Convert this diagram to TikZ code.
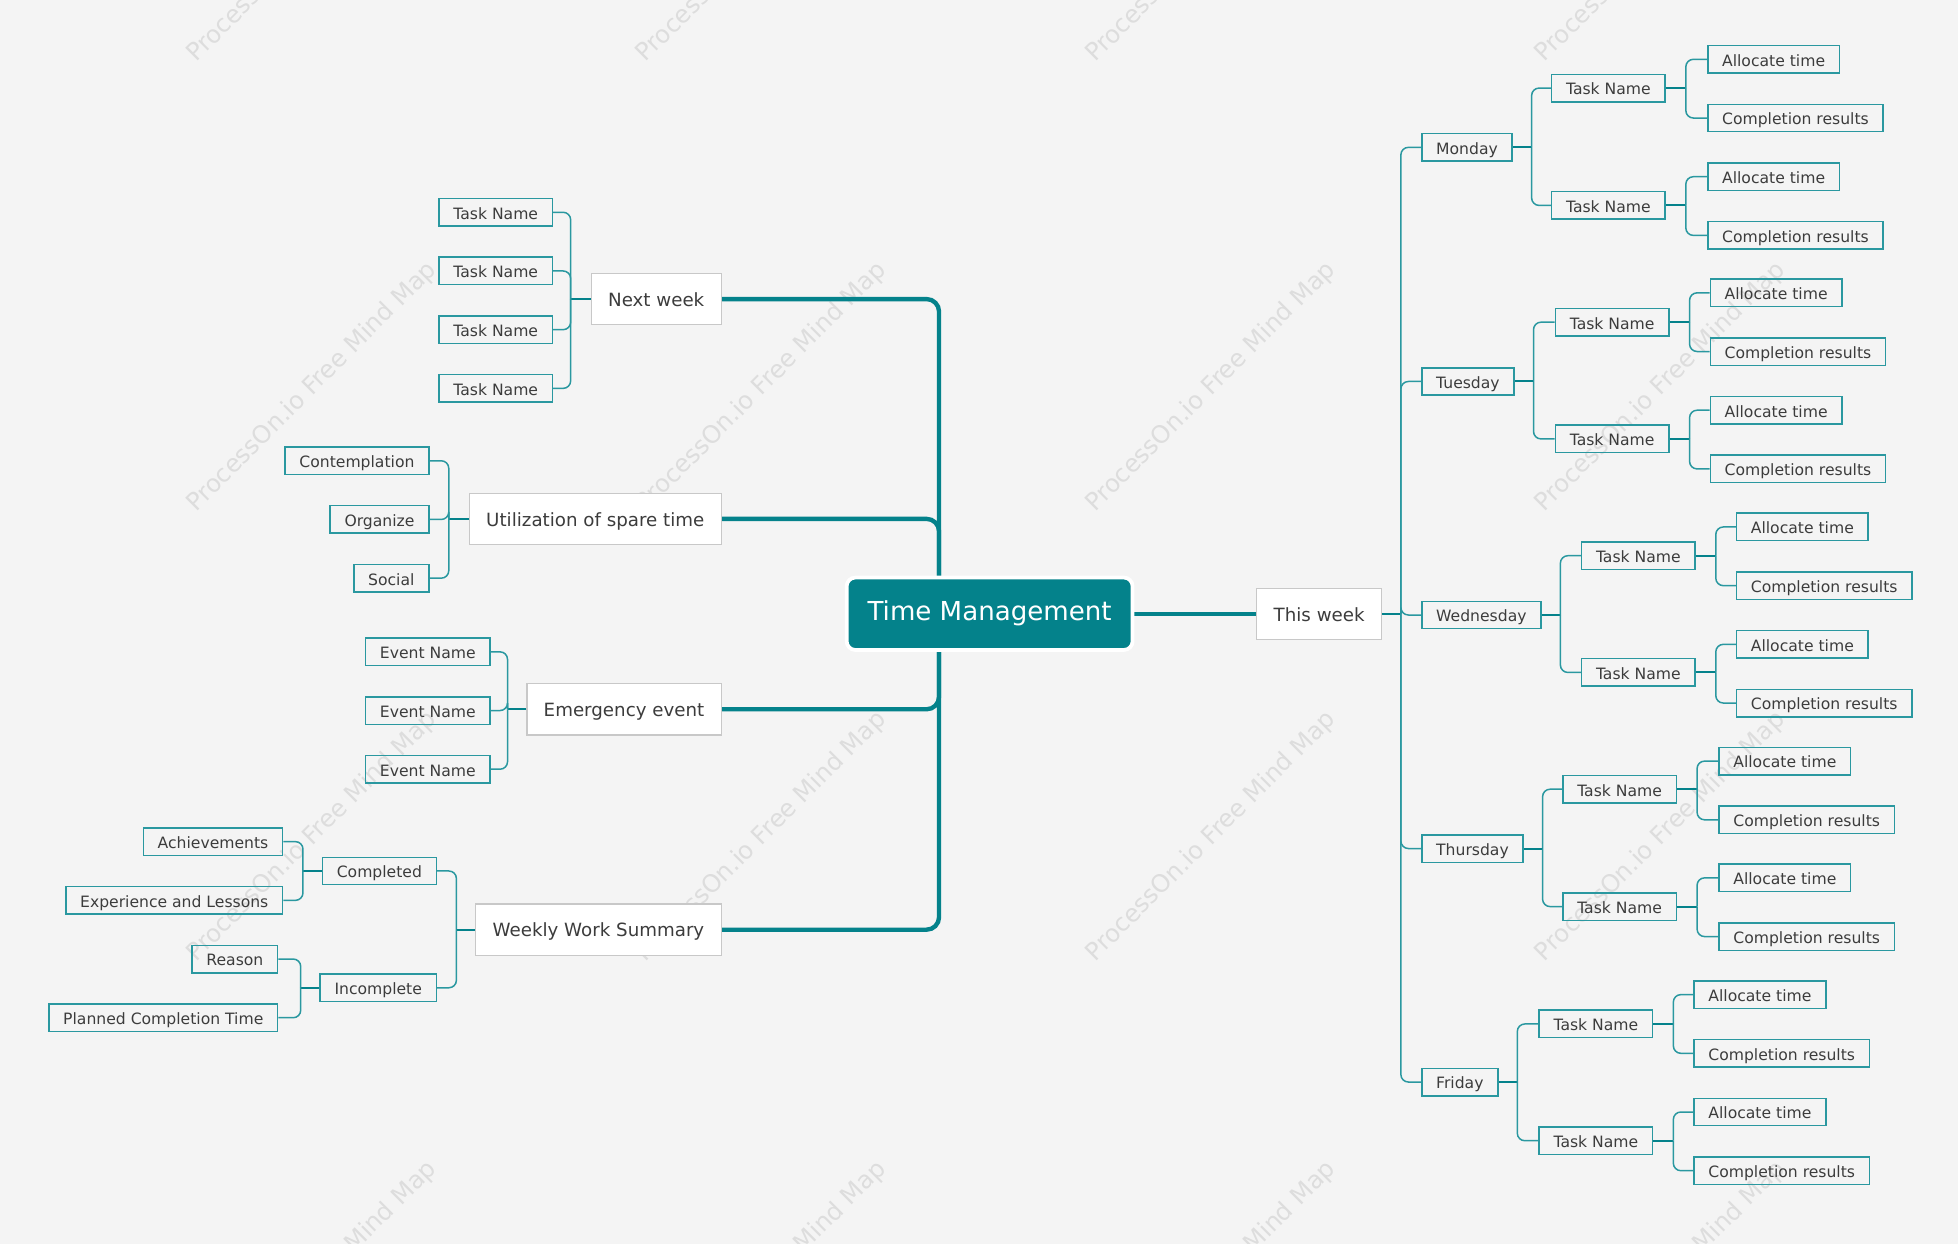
\documentclass[tikz,border=0pt]{standalone}
\usepackage{fontspec}
\setmainfont{DejaVu Sans}
\usetikzlibrary{calc}
\definecolor{bg}{HTML}{F4F4F4}
\definecolor{teal1}{HTML}{04828B}
\definecolor{tline}{HTML}{2A98A0}
\definecolor{txt}{HTML}{3C3C3C}
\definecolor{wm}{HTML}{DDDDDD}
\definecolor{secb}{HTML}{C8C8C8}
\pgfdeclarelayer{back}
\pgfdeclarelayer{bgl}
\pgfsetlayers{back,bgl,main}
\tikzset{
 leaf/.style={draw=tline, line width=1.2pt, minimum height=22pt, inner xsep=11.5pt, inner ysep=0pt,
   text height=12.3pt, text depth=1.3pt, font=\fontsize{12.5}{14}\selectfont, text=txt},
 sec/.style={draw=secb, fill=white, line width=1pt, minimum height=41pt, inner xsep=13.5pt, inner ysep=0pt,
   text height=13.5pt, text depth=1.9pt, font=\fontsize{14.6}{17}\selectfont, text=txt},
 root/.style={fill=teal1, draw=white, line width=3pt, rounded corners=7pt, minimum height=58pt,
   minimum width=229pt, inner ysep=0pt, text height=15.5pt, text depth=4.6pt,
   font=\fontsize{20.9}{24}\selectfont, text=white},
 br/.style={draw=tline, line width=1.2pt, rounded corners=6pt},
 stub/.style={draw=teal1, line width=1.6pt},
 trunk/.style={draw=teal1, line width=3.5pt, rounded corners=10pt},
 wmk/.style={text=wm, rotate=45, font=\fontsize{19.5}{22}\selectfont}
}
\newcommand\mmR[3]{%
 \draw[stub] (#1.east) -- ++(#2,0) coordinate (jn);
 \foreach \c in {#3}{\draw[br] (jn) |- (\c.west);}}
\newcommand\mmL[3]{%
 \draw[stub] (#1.west) -- ++(-#2,0) coordinate (jn);
 \foreach \c in {#3}{\draw[br] (jn) |- (\c.east);}}
\begin{document}
\begin{tikzpicture}[x=1pt,y=-1pt]
\path[use as bounding box] (0,0) rectangle (1568,996);
\clip (0,0) rectangle (1568,996);
\begin{pgfonlayer}{back}
\fill[bg] (0,0) rectangle (1568,996);
\foreach \i in {0,...,3}{\foreach \j in {0,...,3}{%
  \node[wmk] (wm\i\j) at ({250+360*\i},{-50+360*\j}) {ProcessOn.io Free Mind Map};}}
\end{pgfonlayer}

% root and second level
\node[root] (root) at (792.5,491.5) {Time Management};
\node[sec, anchor=west] (tw) at (1006,491.5) {This week};
\node[sec, anchor=east] (nw) at (578,239.5) {Next week};
\node[sec, anchor=east] (ut) at (578,415.5) {Utilization of spare time};
\node[sec, anchor=east] (em) at (578,568) {Emergency event};
\node[sec, anchor=east] (ws) at (578,744.5) {Weekly Work Summary};

\begin{pgfonlayer}{bgl}
\coordinate (tk) at (752,491.5);
\draw[trunk] (nw.east) -| (tk);
\draw[trunk] (ut.east) -| (tk);
\draw[trunk] (em.east) -| (tk);
\draw[trunk] (ws.east) -| (tk);
\draw[trunk] (root.east) -- (tw.west);
\end{pgfonlayer}

% Next week
\node[leaf, anchor=east] (n1) at (443,170) {Task Name};
\node[leaf, anchor=east] (n2) at (443,217) {Task Name};
\node[leaf, anchor=east] (n3) at (443,264) {Task Name};
\node[leaf, anchor=east] (n4) at (443,311) {Task Name};
\mmL{nw}{16}{n1,n2,n3,n4}

% Utilization
\node[leaf, anchor=east] (u1) at (344,369) {Contemplation};
\node[leaf, anchor=east] (u2) at (344,416) {Organize};
\node[leaf, anchor=east] (u3) at (344,463) {Social};
\mmL{ut}{16}{u1,u2,u3}

% Emergency
\node[leaf, anchor=east] (e1) at (393,522) {Event Name};
\node[leaf, anchor=east] (e2) at (393,569) {Event Name};
\node[leaf, anchor=east] (e3) at (393,616) {Event Name};
\mmL{em}{15}{e1,e2,e3}

% Weekly Work Summary
\node[leaf, anchor=east] (wc) at (350,697.5) {Completed};
\node[leaf, anchor=east] (wi) at (350,791) {Incomplete};
\mmL{ws}{15}{wc,wi}
\node[leaf, anchor=east] (wc1) at (227,674) {Achievements};
\node[leaf, anchor=east] (wc2) at (227,721) {Experience and Lessons};
\mmL{wc}{15}{wc1,wc2}
\node[leaf, anchor=east] (wi1) at (223,768) {Reason};
\node[leaf, anchor=east] (wi2) at (223,815) {Planned Completion Time};
\mmL{wi}{15}{wi1,wi2}

% This week: days
\node[leaf, anchor=west] (d1) at (1138,118) {Monday};
\node[leaf, anchor=west] (d2) at (1138,305.5) {Tuesday};
\node[leaf, anchor=west] (d3) at (1138,492.5) {Wednesday};
\node[leaf, anchor=west] (d4) at (1138,679.5) {Thursday};
\node[leaf, anchor=west] (d5) at (1138,866.5) {Friday};
\mmR{tw}{15}{d1,d2,d3,d4,d5}

% Monday
\node[leaf, anchor=west] (d1a) at (1242,70.5) {Task Name};
\node[leaf, anchor=west] (d1b) at (1242,164.5) {Task Name};
\mmR{d1}{15}{d1a,d1b}
\node[leaf, anchor=west] (d1a1) at (1367,47.5) {Allocate time};
\node[leaf, anchor=west] (d1a2) at (1367,94.5) {Completion results};
\mmR{d1a}{16}{d1a1,d1a2}
\node[leaf, anchor=west] (d1b1) at (1367,141.5) {Allocate time};
\node[leaf, anchor=west] (d1b2) at (1367,188.5) {Completion results};
\mmR{d1b}{16}{d1b1,d1b2}

% Tuesday
\node[leaf, anchor=west] (d2a) at (1245,258) {Task Name};
\node[leaf, anchor=west] (d2b) at (1245,351.5) {Task Name};
\mmR{d2}{15}{d2a,d2b}
\node[leaf, anchor=west] (d2a1) at (1369,234.5) {Allocate time};
\node[leaf, anchor=west] (d2a2) at (1369,281.5) {Completion results};
\mmR{d2a}{16}{d2a1,d2a2}
\node[leaf, anchor=west] (d2b1) at (1369,328.5) {Allocate time};
\node[leaf, anchor=west] (d2b2) at (1369,375.5) {Completion results};
\mmR{d2b}{16}{d2b1,d2b2}

% Wednesday
\node[leaf, anchor=west] (d3a) at (1266,445) {Task Name};
\node[leaf, anchor=west] (d3b) at (1266,538.5) {Task Name};
\mmR{d3}{15}{d3a,d3b}
\node[leaf, anchor=west] (d3a1) at (1390,422) {Allocate time};
\node[leaf, anchor=west] (d3a2) at (1390,469) {Completion results};
\mmR{d3a}{16}{d3a1,d3a2}
\node[leaf, anchor=west] (d3b1) at (1390,516) {Allocate time};
\node[leaf, anchor=west] (d3b2) at (1390,563) {Completion results};
\mmR{d3b}{16}{d3b1,d3b2}

% Thursday
\node[leaf, anchor=west] (d4a) at (1251,632) {Task Name};
\node[leaf, anchor=west] (d4b) at (1251,726) {Task Name};
\mmR{d4}{15}{d4a,d4b}
\node[leaf, anchor=west] (d4a1) at (1376,609.5) {Allocate time};
\node[leaf, anchor=west] (d4a2) at (1376,656.5) {Completion results};
\mmR{d4a}{16}{d4a1,d4a2}
\node[leaf, anchor=west] (d4b1) at (1376,703) {Allocate time};
\node[leaf, anchor=west] (d4b2) at (1376,750) {Completion results};
\mmR{d4b}{16}{d4b1,d4b2}

% Friday
\node[leaf, anchor=west] (d5a) at (1232,820) {Task Name};
\node[leaf, anchor=west] (d5b) at (1232,913.5) {Task Name};
\mmR{d5}{15}{d5a,d5b}
\node[leaf, anchor=west] (d5a1) at (1356,796.5) {Allocate time};
\node[leaf, anchor=west] (d5a2) at (1356,843.5) {Completion results};
\mmR{d5a}{16}{d5a1,d5a2}
\node[leaf, anchor=west] (d5b1) at (1356,890.5) {Allocate time};
\node[leaf, anchor=west] (d5b2) at (1356,937.5) {Completion results};
\mmR{d5b}{16}{d5b1,d5b2}
\end{tikzpicture}
\end{document}
